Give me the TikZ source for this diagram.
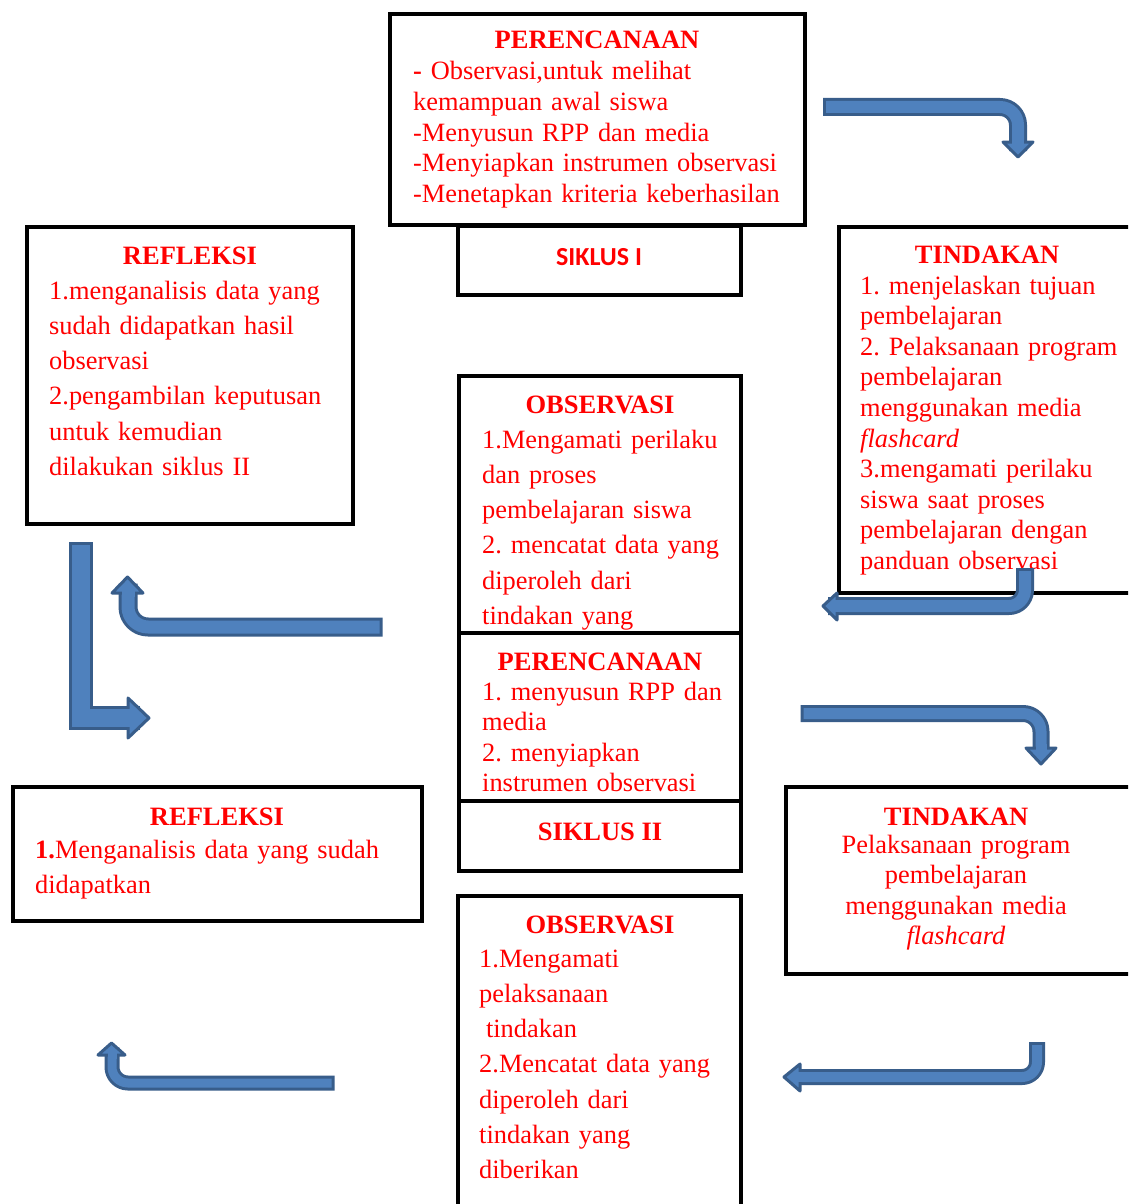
\documentclass[tikz,border=0pt]{standalone}
\usepackage{fontspec}
\setmainfont{Liberation Serif}
\newfontfamily\calib{Carlito}
\definecolor{arrfill}{HTML}{4F81BD}
\definecolor{arrline}{HTML}{385D8A}
\definecolor{txtred}{HTML}{FF0000}
\frenchspacing
\begin{document}
\begin{tikzpicture}[x=1pt,y=-1pt,
  box/.style={draw=black, line width=4.5pt, fill=white},
  ttl/.style={anchor=base, inner sep=0pt, text=txtred, font=\frenchspacing\fontsize{26.5}{30.6}\selectfont\bfseries},
  bodyA/.style={anchor=base west, inner sep=0pt, text=txtred, align=left, text width=420pt, font=\frenchspacing\fontsize{26.4}{30.6}\selectfont},
  bodyB/.style={anchor=base west, inner sep=0pt, text=txtred, align=left, text width=420pt, font=\frenchspacing\fontsize{26.4}{35.3}\selectfont},
  bodyC/.style={anchor=base, inner sep=0pt, text=txtred, align=center, text width=320pt, font=\frenchspacing\fontsize{26.4}{30.6}\selectfont},
  shaft/.style={draw=arrline, line width=3pt, double=arrfill, line cap=rect, line join=round},
  arrhead/.style={fill=arrfill, draw=arrline, line width=3pt, line join=round},
  patch/.style={draw=arrfill, line cap=butt}]
\useasboundingbox (0,0) rectangle (1128,1204);
\clip (0,0) rectangle (1128,1204);
\fill[white] (0,0) rectangle (1128,1204);

% PERENCANAAN (siklus I)
\draw[box] (390,14) rectangle (805,225);
\node[ttl] (p1t) at (597,49) {PERENCANAAN};
\node[bodyA] (p1b) at (413,80) {\textbf{-} Observasi,untuk melihat\\kemampuan awal siswa\\-Menyusun RPP dan media\\-Menyiapkan instrumen observasi\\-Menetapkan kriteria keberhasilan};

% SIKLUS I
\draw[box] (458,226) rectangle (741,295);
\node[anchor=base, inner sep=0pt, text=txtred, font=\calib\fontsize{26}{30}\selectfont\bfseries] (s1) at (599,265) {SIKLUS I};

% REFLEKSI (siklus I)
\draw[box] (27,227) rectangle (353,524);
\node[ttl] (r1t) at (190,264) {REFLEKSI};
\node[bodyB] (r1b) at (49,299) {1.menganalisis data yang\\sudah didapatkan hasil\\observasi\\2.pengambilan keputusan\\untuk kemudian\\dilakukan siklus II};

% TINDAKAN (siklus I)
\draw[box] (839,227) rectangle (1145,593);
\node[ttl] (t1t) at (987,263) {TINDAKAN};
\node[bodyA] (t1b) at (860,294) {1. menjelaskan tujuan\\pembelajaran\\2. Pelaksanaan program\\pembelajaran\\menggunakan media\\\textit{flashcard}\\3.mengamati perilaku\\siswa saat proses\\pembelajaran dengan\\panduan observasi};

% OBSERVASI (siklus I)
\draw[box] (459,376) rectangle (741,633);
\node[ttl] (o1t) at (600,413) {OBSERVASI};
\node[bodyB] (o1b) at (482,448) {1.Mengamati perilaku\\dan proses\\pembelajaran siswa\\2. mencatat data yang\\diperoleh dari\\tindakan yang};

% PERENCANAAN (siklus II)
\draw[box] (459,633) rectangle (741,801);
\node[ttl] (p2t) at (600,670) {PERENCANAAN};
\node[bodyA] (p2b) at (482,700) {1. menyusun RPP dan\\media\\2. menyiapkan\\instrumen observasi};

% SIKLUS II
\draw[box] (459,801) rectangle (741,871);
\node[ttl] (s2) at (600,840) {SIKLUS II};

% REFLEKSI (siklus II)
\draw[box] (13,787) rectangle (422,921);
\node[ttl] (r2t) at (217,825) {REFLEKSI};
\node[bodyB] (r2b) at (35,858) {\textbf{1.}Menganalisis data yang sudah\\didapatkan};

% TINDAKAN (siklus II)
\draw[box] (786,787) rectangle (1145,974);
\node[ttl] (t2t) at (956,825) {TINDAKAN};
\node[bodyC] (t2b) at (956,853) {Pelaksanaan program\\pembelajaran\\menggunakan media\\\textit{flashcard}};

% OBSERVASI (siklus II)
\draw[box] (458,896) rectangle (741,1230);
\node[ttl] (o2t) at (600,933) {OBSERVASI};
\node[bodyB] (o2b) at (479,967) {1.Mengamati\\pelaksanaan\\\hspace*{0.26em}tindakan\\2.Mencatat data yang\\diperoleh dari\\tindakan yang\\diberikan};

% ---- block arrows ----
% A: top right, bends down
\draw[shaft, double distance=12pt, rounded corners=18pt] (832,107) -- (1018,107) -- (1018,142);
\draw[arrhead] (1003,142) -- (1018,157) -- (1033,142) -- cycle;
\draw[patch, line width=12pt] (1018,138) -- (1018,146);

% B: left, long L
\draw[shaft, double distance=18pt, line join=miter] (81,554) -- (81,718) -- (128,718);
\draw[arrhead] (128,698) -- (149,718) -- (128,738) -- cycle;
\draw[patch, line width=18pt] (124,718) -- (132,718);

% C: left, U-turn up
\draw[shaft, double distance=13pt, rounded corners=20pt] (373,627) -- (128,627) -- (128,593);
\draw[arrhead] (112,593) -- (127.5,577) -- (143,593) -- cycle;
\draw[patch, line width=13pt] (128,597) -- (128,589);

% D: under TINDAKAN, pointing left
\draw[shaft, double distance=12pt, rounded corners=16pt] (1025,577) -- (1025,606) -- (837,606);
\draw[arrhead] (837,593) -- (823,606) -- (837,620) -- cycle;
\draw[patch, line width=12pt] (841,606) -- (833,606);

% E: right middle, bends down
\draw[shaft, double distance=11pt, rounded corners=18pt] (809,713.5) -- (1041,713.5) -- (1041,748);
\draw[arrhead] (1026,748) -- (1041,764) -- (1056,748) -- cycle;
\draw[patch, line width=11pt] (1041,744) -- (1041,752);

% F: bottom left, U-turn up
\draw[shaft, double distance=9pt, rounded corners=16pt] (327,1083) -- (112,1083) -- (112,1055);
\draw[arrhead] (98,1055) -- (111.5,1043) -- (125,1055) -- cycle;
\draw[patch, line width=9pt] (112,1059) -- (112,1051);

% G: bottom right, pointing left
\draw[shaft, double distance=10pt, rounded corners=15pt] (1037,1050) -- (1037,1077) -- (800,1077);
\draw[arrhead] (800,1064) -- (784,1077) -- (800,1091) -- cycle;
\draw[patch, line width=10pt] (804,1077) -- (796,1077);
\end{tikzpicture}
\end{document}
